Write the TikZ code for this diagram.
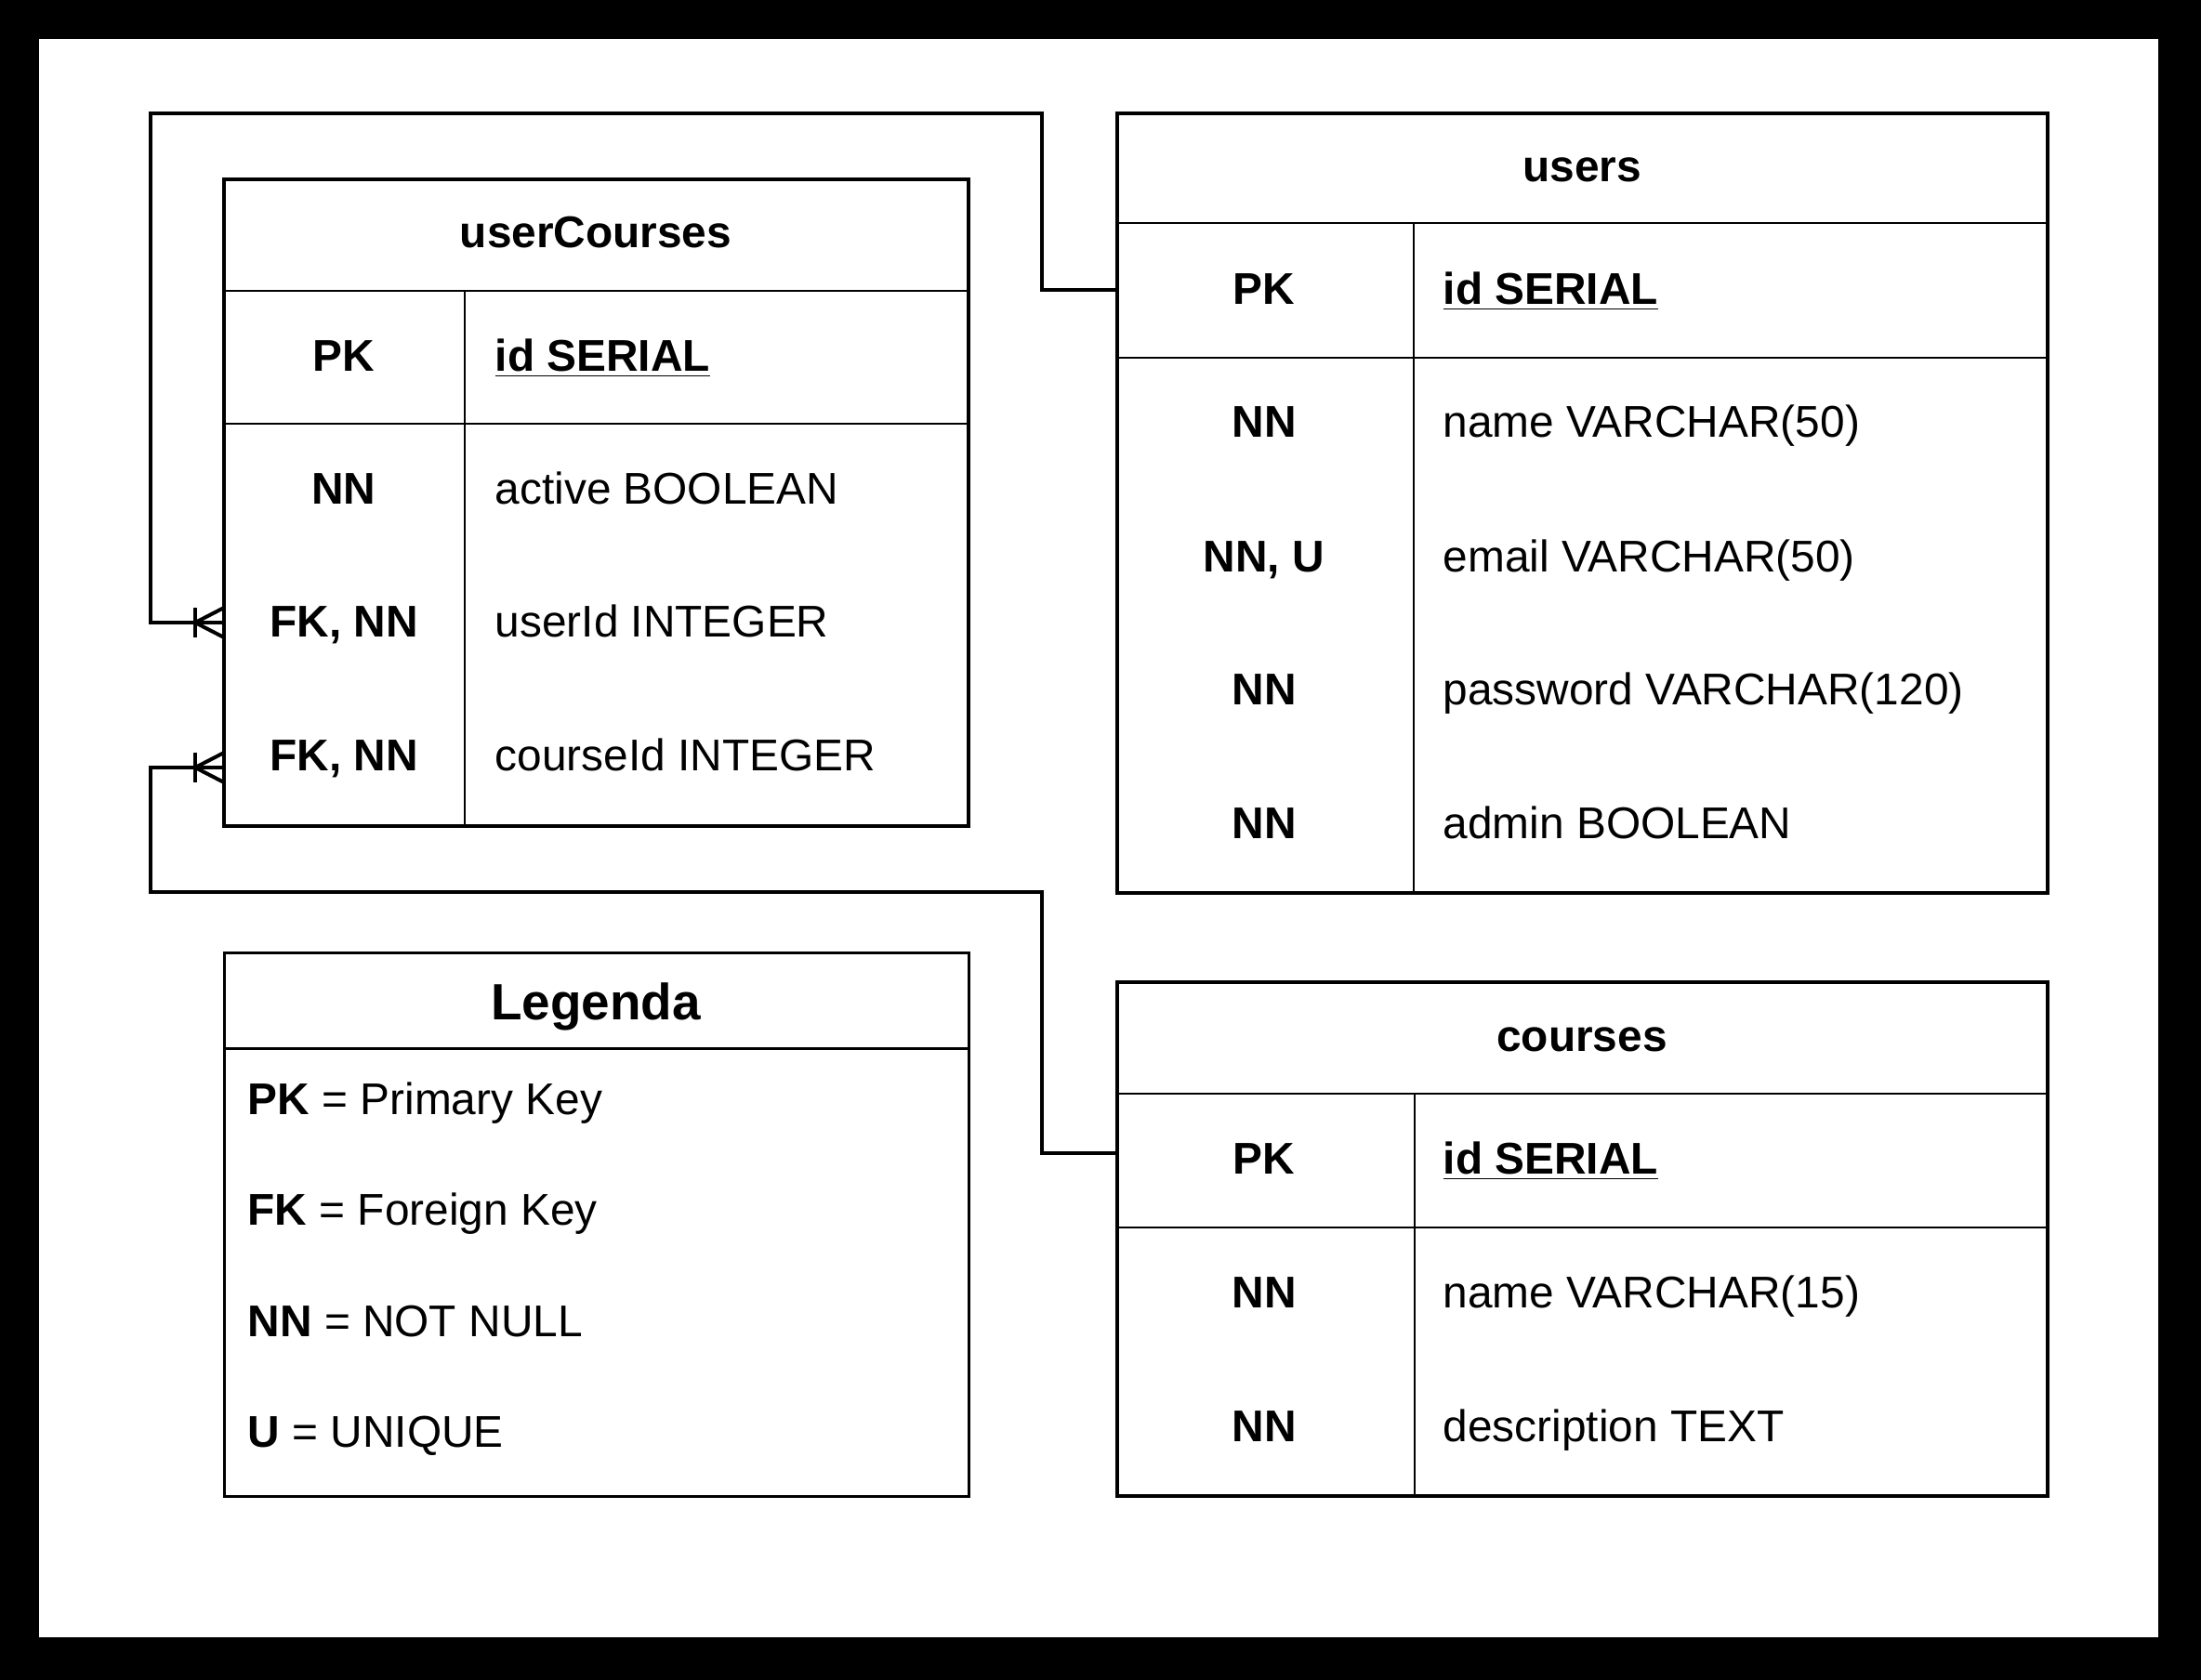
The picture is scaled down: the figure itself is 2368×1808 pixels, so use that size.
\documentclass[tikz,border=0pt]{standalone}
\usepackage{fontspec}
\setmainfont{Liberation Sans}
\begin{document}
\begin{tikzpicture}[x=0.01cm,y=-0.01cm,
  outerline/.style={line width=0.04cm},
  innerline/.style={line width=0.02cm},
  divline/.style={line width=0.028cm},
  conn/.style={line width=0.04cm},
  tbox/.style={draw,line width=0.04cm,inner sep=0,outer sep=0,anchor=north west},
  txt/.style={inner sep=0,font=\fontsize{13.6}{16}\selectfont},
  keytxt/.style={txt,anchor=base,font=\fontsize{13.6}{16}\selectfont\bfseries},
  coltxt/.style={txt,anchor=base west},
  hdrtxt/.style={txt,anchor=base,font=\fontsize{13.6}{16}\selectfont\bfseries},
]
% frame
\fill[black] (0,0) rectangle (2368,1808);
\fill[white] (42,42) rectangle (2322,1762);
\useasboundingbox (0,0) rectangle (2368,1808);

% ---------- userCourses ----------
\node[tbox,minimum width=8.01cm,minimum height=6.96cm] (uc) at (241,193) {};
\draw[innerline] (241,313) -- (1042,313);
\draw[innerline] (241,456) -- (1042,456);
\draw[divline] (500,313) -- (500,889);
\node[hdrtxt] (ucH) at (641,266) {userCourses};
\node[keytxt] (ucK1) at (370,399) {PK};
\node[coltxt,font=\fontsize{13.6}{16}\selectfont\bfseries] (ucC1) at (532,399) {\underline{id SERIAL}};
\node[keytxt] (ucK2) at (370,542) {NN};
\node[coltxt] (ucC2) at (532,542) {active BOOLEAN};
\node[keytxt] (ucK3) at (370,685) {FK, NN};
\node[coltxt] (ucC3) at (532,685) {userId INTEGER};
\node[keytxt] (ucK4) at (370,829) {FK, NN};
\node[coltxt] (ucC4) at (532,829) {courseId INTEGER};
\coordinate (ucUser) at (241,670);
\coordinate (ucCourse) at (241,826);

% ---------- users ----------
\node[tbox,minimum width=10.00cm,minimum height=8.38cm] (us) at (1202,122) {};
\draw[innerline] (1202,240) -- (2202,240);
\draw[innerline] (1202,385) -- (2202,385);
\draw[innerline] (1521,240) -- (1521,960);
\node[hdrtxt] (usH) at (1702,195) {users};
\node[keytxt] (usK1) at (1360,327) {PK};
\node[coltxt,font=\fontsize{13.6}{16}\selectfont\bfseries] (usC1) at (1552,327) {\underline{id SERIAL}};
\node[keytxt] (usK2) at (1360,470) {NN};
\node[coltxt] (usC2) at (1552,470) {name VARCHAR(50)};
\node[keytxt] (usK3) at (1360,615) {NN, U};
\node[coltxt] (usC3) at (1552,615) {email VARCHAR(50)};
\node[keytxt] (usK4) at (1360,758) {NN};
\node[coltxt] (usC4) at (1552,758) {password VARCHAR(120)};
\node[keytxt] (usK5) at (1360,902) {NN};
\node[coltxt] (usC5) at (1552,902) {admin BOOLEAN};
\coordinate (usPK) at (1202,312);

% ---------- courses ----------
\node[tbox,minimum width=10.00cm,minimum height=5.53cm] (co) at (1202,1057) {};
\draw[innerline] (1202,1177) -- (2202,1177);
\draw[innerline] (1202,1321) -- (2202,1321);
\draw[divline] (1522,1177) -- (1522,1610);
\node[hdrtxt] (coH) at (1702,1131) {courses};
\node[keytxt] (coK1) at (1360,1263) {PK};
\node[coltxt,font=\fontsize{13.6}{16}\selectfont\bfseries] (coC1) at (1552,1263) {\underline{id SERIAL}};
\node[keytxt] (coK2) at (1360,1407) {NN};
\node[coltxt] (coC2) at (1552,1407) {name VARCHAR(15)};
\node[keytxt] (coK3) at (1360,1551) {NN};
\node[coltxt] (coC3) at (1552,1551) {description TEXT};
\coordinate (coPK) at (1202,1241);

% ---------- Legenda ----------
\node[tbox,line width=0.03cm,minimum width=8.01cm,minimum height=5.85cm] (lg) at (241,1025) {};
\draw[line width=0.03cm] (241,1128) -- (1042,1128);
\node[txt,anchor=base,font=\fontsize{15.6}{18}\selectfont\bfseries] (lgH) at (641,1097) {Legenda};
\node[coltxt] (lg1) at (266,1199) {\textbf{PK} = Primary Key};
\node[coltxt] (lg2) at (266,1318) {\textbf{FK} = Foreign Key};
\node[coltxt] (lg3) at (266,1438) {\textbf{NN} = NOT NULL};
\node[coltxt] (lg4) at (266,1557) {\textbf{U} = UNIQUE};

% ---------- connectors ----------
\coordinate (c1a) at (1121,122);
\coordinate (c1b) at (162,122);
\draw[conn,line join=miter] (usPK) -- (1121,312) -- (c1a) -- (c1b) -- (162,670) -- (ucUser);
\draw[conn] (210,654) -- (210,686);
\draw[conn] (241,654) -- (210,670) -- (241,686);

\coordinate (c2a) at (1121,960);
\coordinate (c2b) at (162,960);
\draw[conn,line join=miter] (coPK) -- (1121,1241) -- (c2a) -- (c2b) -- (162,826) -- (ucCourse);
\draw[conn] (210,810) -- (210,842);
\draw[conn] (241,810) -- (210,826) -- (241,842);
\end{tikzpicture}
\end{document}
